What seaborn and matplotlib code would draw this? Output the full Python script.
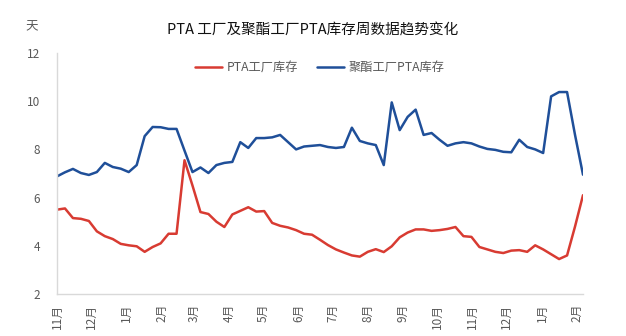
import matplotlib
matplotlib.use("Agg")
import matplotlib.pyplot as plt
import matplotlib.dates as mdates
from matplotlib.transforms import Bbox, TransformedBbox
import numpy as np
import pandas as pd
import seaborn as sns

# ---- data ----
start_date = "2020-11-01"
pta_factory = [5.50, 5.55, 5.15, 5.12, 5.03, 4.60, 4.40, 4.28, 4.08, 4.02,
               3.98, 3.75, 3.95, 4.10, 4.50, 4.50, 7.55, 6.50, 5.40, 5.32,
               5.00, 4.78, 5.30, 5.45, 5.60, 5.42, 5.44, 4.95, 4.83, 4.76,
               4.65, 4.50, 4.46, 4.25, 4.03, 3.85, 3.72, 3.60, 3.55, 3.75,
               3.86, 3.74, 3.98, 4.35, 4.55, 4.68, 4.68, 4.62, 4.65, 4.70,
               4.78, 4.40, 4.37, 3.95, 3.85, 3.75, 3.70, 3.80, 3.82, 3.75,
               4.02, 3.85, 3.65, 3.45, 3.60, 4.80, 6.10]
polyester_pta = [6.88, 7.05, 7.19, 7.02, 6.94, 7.06, 7.44, 7.27, 7.20, 7.06,
                 7.35, 8.55, 8.93, 8.92, 8.85, 8.85, 7.95, 7.06, 7.25, 7.02,
                 7.35, 7.44, 7.48, 8.30, 8.06, 8.47, 8.47, 8.50, 8.60, 8.30,
                 8.00, 8.12, 8.15, 8.18, 8.10, 8.06, 8.10, 8.90, 8.35, 8.25,
                 8.18, 7.35, 9.95, 8.80, 9.35, 9.65, 8.60, 8.68, 8.40, 8.15,
                 8.25, 8.30, 8.25, 8.12, 8.02, 7.98, 7.90, 7.88, 8.40, 8.10,
                 8.00, 7.85, 10.20, 10.38, 10.38, 8.60, 6.95]
series_names = ["PTA工厂库存", "聚酯工厂PTA库存"]
month_labels = ["11月", "12月", "1月", "2月", "3月", "4月", "5月", "6月",
                "7月", "8月", "9月", "10月", "11月", "12月", "1月", "2月"]
title_text = "PTA 工厂及聚酯工厂PTA库存周数据趋势变化"
unit_text = "天"

colors = ["#d83b32", "#1f4f99"]

# ---- frame ----
dates = pd.date_range(start_date, periods=len(pta_factory), freq="7D")
df = pd.DataFrame({"date": dates,
                   series_names[0]: pta_factory,
                   series_names[1]: polyester_pta})
long = df.melt(id_vars="date", var_name="series", value_name="value")

sns.set_theme(style="white")
plt.rcParams["font.family"] = ["Noto Sans CJK SC", "DejaVu Sans"]

fig = plt.figure(figsize=(6.26, 3.36), dpi=100)
ax = fig.add_axes([57/626, 1-294/336, (583-57)/626, (294-53)/336])

sns.lineplot(data=long, x="date", y="value", hue="series",
             palette=colors, linewidth=1.8, ax=ax, legend=True)

ax.set_xlim(dates[0], dates[-1])
ax.set_ylim(2, 12)
ax.set_yticks(np.arange(2, 13, 2))
month_pos = pd.date_range(start_date, periods=len(month_labels), freq="MS")
ax.set_xticks(mdates.date2num(month_pos))
ax.set_xticklabels(month_labels, rotation=90)
ax.set_xlabel("")
ax.set_ylabel("")

gray = "#d9d9d9"
for s in ["top", "right"]:
    ax.spines[s].set_visible(False)
for s in ["left", "bottom"]:
    ax.spines[s].set_color(gray)
    ax.spines[s].set_linewidth(1.0)
ax.tick_params(axis="both", which="major", length=4, color=gray,
               labelcolor="#595959", labelsize=8.5, direction="out", width=1)
ax.tick_params(axis="x", pad=3)
ax.tick_params(axis="y", pad=8)

# clip tick labels at the right edge of the plot area, as in the reference
clip = TransformedBbox(Bbox([[0, 0], [583/626, 1]]), fig.transFigure)
for lab in ax.get_xticklabels():
    lab.set_clip_box(clip)
    lab.set_clip_on(True)

leg = ax.legend(loc="upper center", bbox_to_anchor=(0.5, 1.01), ncol=2,
                frameon=False, fontsize=8.8, handlelength=2.2,
                columnspacing=1.5, handletextpad=0.4)
for t in leg.get_texts():
    t.set_color("#595959")

fig.text(0.5, 1-30/336, title_text, ha="center", va="center",
         fontsize=10.5, color="#111111")
fig.text(32/626, 1-27/336, unit_text, ha="center", va="center",
         fontsize=9, color="#595959")

fig.savefig("out.png", dpi=100)
